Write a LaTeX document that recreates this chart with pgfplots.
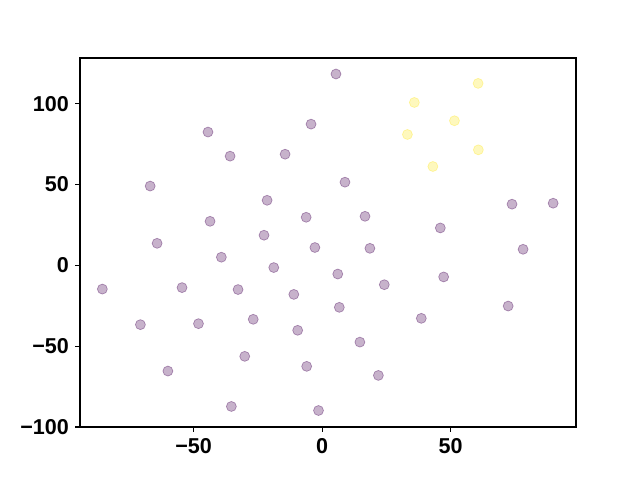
\documentclass[border=0pt]{standalone}
\usepackage{pgfplots}
\pgfplotsset{compat=1.18}
\usepackage{fontspec}
\setmainfont{Liberation Sans}
\definecolor{vpurple}{HTML}{440154}
\definecolor{vyellow}{HTML}{FDE725}
\begin{document}
\begin{tikzpicture}[x=1pt,y=1pt]
\useasboundingbox (0,0) rectangle (460.8,345.6);
\begin{axis}[
  at={(57.6pt,38.16pt)}, anchor=south west,
  scale only axis, width=357.12pt, height=265.68pt,
  xmin=-94.2, xmax=98.8, ymin=-100, ymax=128.2,
  xtick={-50,0,50}, xticklabels={−50,0,50},
  ytick={-100,-50,0,50,100}, yticklabels={−100,−50,0,50,100},
  tick align=outside, tick pos=left,
  major tick length=3.5pt,
  every tick/.style={black, line width=0.8pt},
  axis line style={line width=0.8pt},
  tick label style={font=\fontsize{15.5}{18}\selectfont\bfseries},
  xticklabel style={yshift=-1pt},
  yticklabel style={xshift=-1pt},
]
\addplot[only marks, mark=*, mark size=3.6pt, mark options={draw=vpurple, fill=vpurple, draw opacity=0.38, fill opacity=0.3, line width=0.5pt}] coordinates {
(5.4,118.3) (-44.4,82.4) (-4.3,87.3) (-35.8,67.5) (-14.4,68.7)
(-66.9,49.0) (8.9,51.4) (-21.4,40.2) (16.7,30.3) (-6.2,29.7)
(-22.6,18.6) (-43.6,27.2) (46.0,23.1) (73.9,37.8) (89.9,38.4)
(-64.2,13.6) (-39.2,5.0) (-2.8,11.0) (-18.8,-1.4) (-85.5,-14.7)
(-54.5,-13.8) (-32.7,-15.0) (-11.0,-18.0) (-70.7,-36.7) (-48.1,-36.1)
(-26.8,-33.4) (-9.5,-40.2) (-30.1,-56.3) (-60.0,-65.4) (-6.0,-62.5)
(-35.3,-87.3) (-1.4,-89.8) (18.6,10.5) (78.2,9.9) (6.1,-5.4)
(24.2,-12.0) (47.3,-7.2) (6.7,-26.0) (72.4,-25.2) (38.6,-32.8)
(14.7,-47.5) (21.9,-68.1)
};
\addplot[only marks, mark=*, mark size=3.6pt, mark options={draw=vyellow, fill=vyellow, draw opacity=0.38, fill opacity=0.3, line width=0.5pt}] coordinates {
(60.7,112.5) (35.9,100.7) (51.5,89.4) (33.2,80.9) (60.8,71.4) (43.1,61.1)
};
\end{axis}
\end{tikzpicture}
\end{document}
